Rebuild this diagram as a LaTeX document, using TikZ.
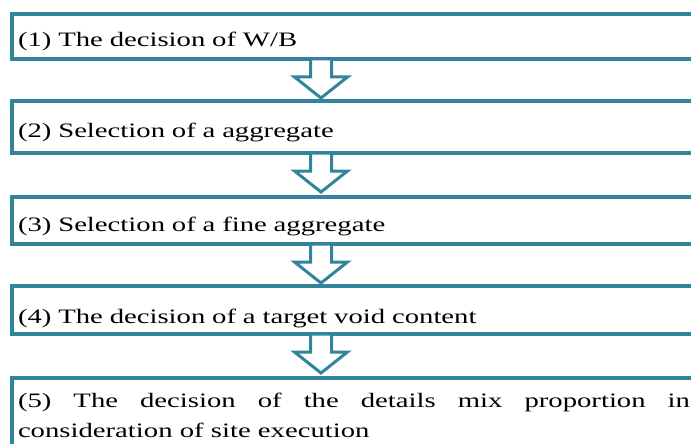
\documentclass[tikz,border=0pt]{standalone}
\usepackage{fontspec}
\setmainfont{Liberation Serif}[FakeStretch=1.4]
\usetikzlibrary{positioning}
\definecolor{stageteal}{HTML}{31849B}
\tikzset{
  stage/.style={draw=stageteal, line width=4pt, inner xsep=6pt, inner ysep=0pt, outer sep=0pt,
    text width=672pt, align=left, font=\fontsize{20.5}{30}\selectfont},
  downarrow/.style={draw=stageteal, line width=3pt, fill=white}
}

\begin{document}
\begin{tikzpicture}[x=1pt,y=-1pt]
  \useasboundingbox (0,0) rectangle (691,444);
  \clip (0,0) rectangle (691,444);
  % the five steps
  \node[stage, anchor=north west, text height=33pt, text depth=12pt] (b1) at (12,14) {(1) The decision of W/B};
  \node[stage, below right=42pt and 0pt of b1.south west, text height=36pt, text depth=16pt] (b2) {(2) Selection of a aggregate};
  \node[stage, below right=44pt and 0pt of b2.south west, text height=34pt, text depth=13pt] (b3) {(3) Selection of a fine aggregate};
  \node[stage, below right=42pt and 0pt of b3.south west, text height=37pt, text depth=11pt] (b4) {(4) The decision of a target void content};
  \node[stage, below right=44pt and 0pt of b4.south west, text height=29pt, text depth=50pt, align=justify] (b5) {(5) The decision of the details mix proportion in\linebreak consideration of site execution};
  % hollow arrows between the steps
  \coordinate (ax) at (321,0);
  \foreach \i in {1,...,4} {
    \draw[downarrow] (b\i.south -| ax) ++(-10.5,0) -- ++(0,18) -- ++(-16,0) -- ++(26.5,21)
      -- ++(26.5,-21) -- ++(-16,0) -- ++(0,-18) -- cycle;
  }
\end{tikzpicture}
\end{document}
